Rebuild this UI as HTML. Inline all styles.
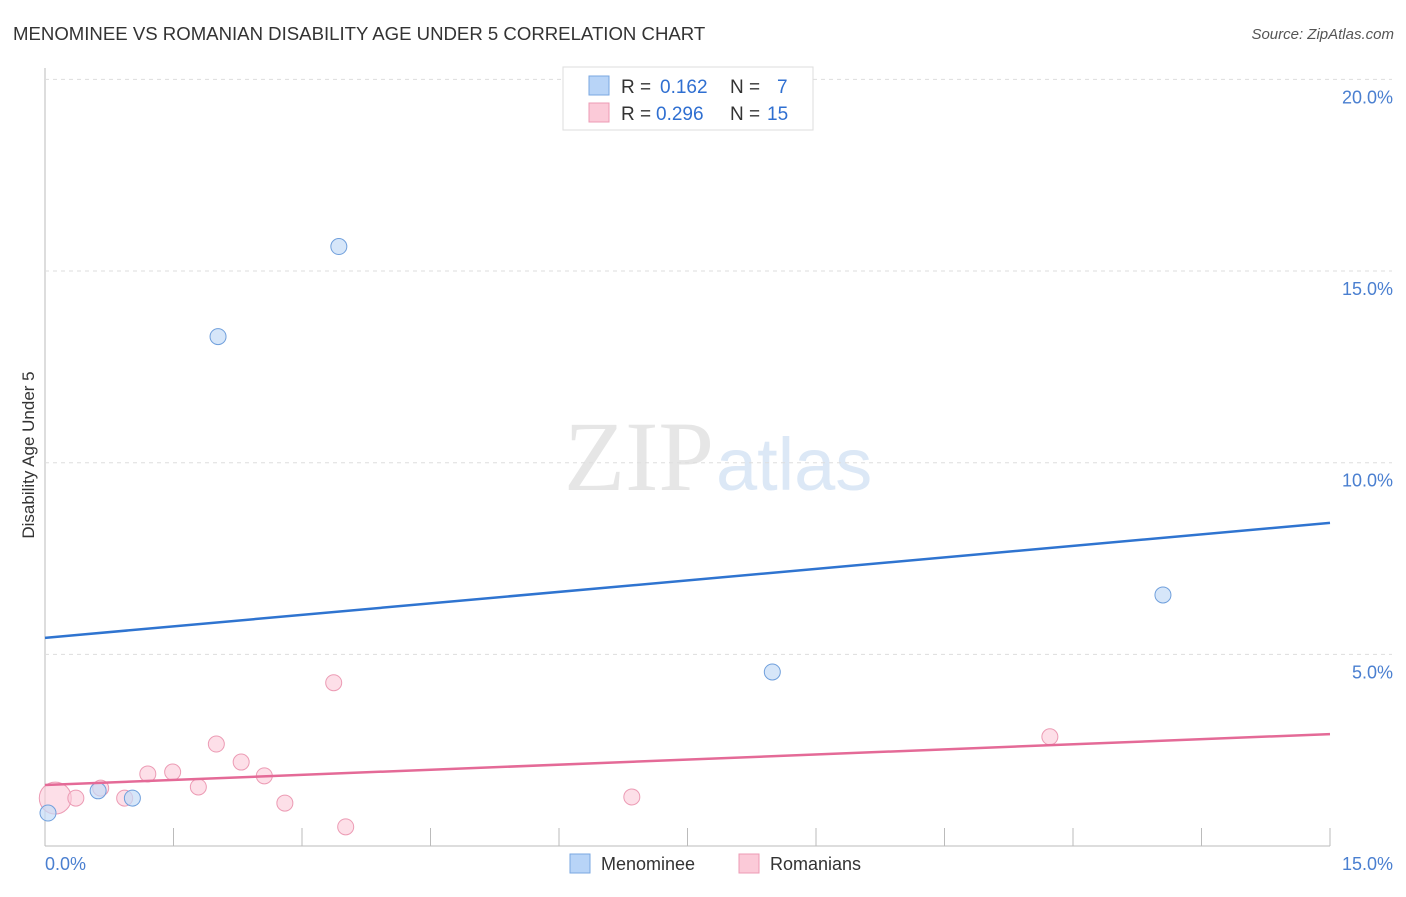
<!DOCTYPE html>
<html><head><meta charset="utf-8"><style>
body{margin:0;background:#fff;font-family:"Liberation Sans",sans-serif;}
</style></head><body>
<svg width="1406" height="892" xmlns="http://www.w3.org/2000/svg" id="chart">
<text x="13" y="40" font-size="18.6" fill="#333">MENOMINEE VS ROMANIAN DISABILITY AGE UNDER 5 CORRELATION CHART</text>
<text x="1394" y="39" font-size="15" fill="#555" font-style="italic" text-anchor="end">Source: ZipAtlas.com</text>
<text x="714" y="490" font-size="100" fill="#e6e6e6" font-family="Liberation Serif" text-anchor="end">ZIP</text>
<text x="716" y="490" font-size="74" fill="#dce8f6">atlas</text>
<text transform="translate(34,455) rotate(-90)" font-size="17" fill="#333" text-anchor="middle">Disability Age Under 5</text>
<g id="grid"></g><g id="marks"></g>
<g>
<rect x="563" y="67" width="250" height="63" fill="#fff" stroke="#ddd"/>
<rect x="589" y="76" width="20" height="19" fill="#b8d4f7" stroke="#7aa7e0"/>
<text x="621" y="93" font-size="19" fill="#333">R =</text>
<text x="660" y="93" font-size="19" fill="#2f6fd1">0.162</text>
<text x="730" y="93" font-size="19" fill="#333">N =</text>
<text x="777" y="93" font-size="19" fill="#2f6fd1">7</text>
<rect x="589" y="103" width="20" height="19" fill="#fbcad8" stroke="#ec9bb4"/>
<text x="621" y="120" font-size="19" fill="#333">R =</text>
<text x="656" y="120" font-size="19" fill="#2f6fd1">0.296</text>
<text x="730" y="120" font-size="19" fill="#333">N =</text>
<text x="767" y="120" font-size="19" fill="#2f6fd1">15</text>
</g>
<g>
<rect x="570" y="854" width="20" height="19" fill="#b8d4f7" stroke="#7aa7e0"/>
<text x="601" y="870" font-size="18" fill="#333">Menominee</text>
<rect x="739" y="854" width="20" height="19" fill="#fbcad8" stroke="#ec9bb4"/>
<text x="770" y="870" font-size="18" fill="#333">Romanians</text>
</g>
</svg>
<script>
const yTicks=[5,10,15,20];
const yTickLabels=["5.0%","10.0%","15.0%","20.0%"];
const menX=[0.035,0.62,1.02,2.02,3.43,8.49,13.05];
const menY=[0.86,1.44,1.25,13.29,15.64,4.54,6.55];
const romX=[0.12,0.36,0.65,0.93,1.2,1.49,1.79,2.0,2.29,2.56,2.8,3.37,3.51,6.85,11.73];
const romY=[1.25,1.25,1.51,1.25,1.88,1.93,1.54,2.66,2.19,1.83,1.12,4.26,0.5,1.28,2.85];
const menLine=[5.43,8.43];
const romLine=[1.59,2.92];
const sx=v=>45+v*(1285/15), sy=v=>846-v*38.33;
const NS="http://www.w3.org/2000/svg";
const grid=document.getElementById('grid'), marks=document.getElementById('marks');
function mk(p,tag,a){const e=document.createElementNS(NS,tag);for(const k in a)e.setAttribute(k,a[k]);p.appendChild(e);return e;}
let ax=mk(grid,'line',{x1:45,y1:68,x2:45,y2:846,stroke:'#bbb'});


let bx=mk(grid,'line',{x1:45,y1:846,x2:1330,y2:846,stroke:'#bbb'});


yTicks.forEach((t,i)=>{
 const g=mk(grid,'line',{x1:45,x2:1392,y1:sy(t),y2:sy(t),stroke:'#ddd','stroke-dasharray':'4,4'});
 
 
 const l=mk(grid,'text',{x:1393,y:sy(t)+24,'font-size':18,fill:'#4a7fd0','text-anchor':'end'});l.textContent=yTickLabels[i];
 
 
});
for(let i=1;i<=10;i++){const x=sx(i*1.5);const t=mk(grid,'line',{x1:x,x2:x,y1:828,y2:846,stroke:'#bbb'});
 
 }
const xl0=mk(grid,'text',{x:45,y:870,'font-size':18,fill:'#4a7fd0'});xl0.textContent='0.0%';


const xl1=mk(grid,'text',{x:1393,y:870,'font-size':18,fill:'#4a7fd0','text-anchor':'end'});xl1.textContent='15.0%';


romX.forEach((x,i)=>{const c=mk(marks,'circle',{cx:sx(x),cy:sy(romY[i]),r:i==0?16:8,fill:'#fbcad8','fill-opacity':0.6,stroke:'#ec9bb4'});
 
 });
menX.forEach((x,i)=>{const c=mk(marks,'circle',{cx:sx(x),cy:sy(menY[i]),r:8,fill:'#c4dbf7','fill-opacity':0.7,stroke:'#6f9fdc'});
 
 });
const l1=mk(marks,'line',{x1:sx(0),y1:sy(menLine[0]),x2:sx(15),y2:sy(menLine[1]),stroke:'#2f74d0','stroke-width':2.5});


const l2=mk(marks,'line',{x1:sx(0),y1:sy(romLine[0]),x2:sx(15),y2:sy(romLine[1]),stroke:'#e46a97','stroke-width':2.5});


</script>
</body></html>
